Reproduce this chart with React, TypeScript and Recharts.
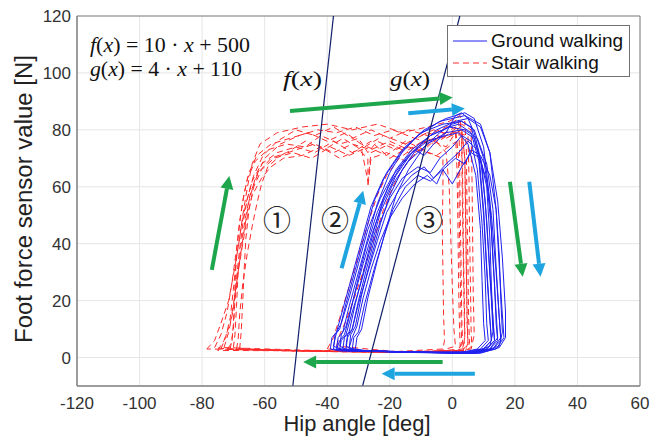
import React from "react";
import { ComposedChart, Line, XAxis, YAxis, CartesianGrid, ReferenceLine, ReferenceArea, Legend } from "recharts";

type P = [number, number];

// ground walking cycles (hip angle, foot force)
const g1: P[] = [[-39,3],[-38.5,7],[-37,9],[-35,17],[-32,29],[-29,41],[-26,53],[-22,63],[-17,71],[-11,78],[-4,83],[4,85],[9,82],[12,72],[14,52],[15,32],[16,15],[16.5,7],[14,3],[8,1.5],[-10,1.8],[-36,2.3],[-39,3]];
const g2: P[] = [[-38,3],[-37.5,8],[-36,10],[-34,19],[-31,31],[-28,43],[-25,55],[-21,65],[-16,73],[-10,79],[-3,82],[3,83],[7,80],[10,70],[12.5,50],[14,30],[15,14],[15.5,6],[13,3],[7,1.6],[-12,1.9],[-35,2.4],[-38,3]];
const g3: P[] = [[-37,3.5],[-36.5,7],[-35,9],[-33,18],[-30,30],[-27,42],[-24,54],[-20,65],[-15,74],[-9,80],[-2,84],[4,86],[7,84],[10,74],[12,55],[13,34],[14,16],[14.5,7],[12,3],[6,1.5],[-14,2],[-34,2.5],[-37,3.5]];
const g4: P[] = [[-36,3],[-35.5,6],[-34,8],[-32,16],[-29,27],[-26,39],[-23,51],[-19,61],[-14,69],[-8,75],[-2,79],[3,80],[7,77],[9.5,67],[11,48],[12,30],[13,14],[13.5,6],[11,3],[5,1.7],[-15,2],[-33,2.6],[-36,3]];
const g5: P[] = [[-35,3],[-34.5,7],[-33,9],[-31,19],[-28,32],[-25,45],[-22,56],[-18,66],[-13,73],[-7,78],[-1,81],[2,82],[6,79],[8.5,69],[10,50],[11,30],[12,13],[12.5,6],[10,3],[4,1.6],[-16,1.9],[-32,2.5],[-35,3]];
const g6: P[] = [[-34,3],[-33.5,7],[-32,10],[-30,20],[-27,33],[-24,45],[-20,56],[-16,63],[-11,67],[-7,65],[-4,70],[0,74],[3,78],[6,76],[8,66],[9.5,47],[10.5,28],[11,12],[11.5,6],[9,3],[3,1.7],[-18,2],[-31,2.6],[-34,3]];
const g7: P[] = [[-33,3],[-32.5,8],[-31,11],[-29,22],[-26,35],[-23,47],[-20,57],[-16,66],[-11,74],[-5,80],[1,83],[5,84],[9,81],[12,72],[14.5,55],[16,35],[17,16],[17,7],[15,3.5],[9,1.5],[-8,1.8],[-30,2.4],[-33,3]];
const g8: P[] = [[-32,3],[-31.5,7],[-30,9],[-28,19],[-25,31],[-22,42],[-19,52],[-15,60],[-11,64],[-7,62],[-3,66],[0,61],[3,67],[6,72],[9,70],[11,60],[12,42],[12.5,25],[13,12],[13.5,6],[11,3],[5,1.6],[-16,1.9],[-29,2.5],[-32,3]];
const g9: P[] = [[-38,4],[-37,9],[-35.5,12],[-33,21],[-30,33],[-27,45],[-23,56],[-19,64],[-14,71],[-8,76],[-2,78],[2,79],[5,75],[7.5,64],[9,45],[9.5,27],[10,12],[10.5,6],[8,3],[2,1.6],[-17,2],[-35,2.5],[-38,4]];
const g10: P[] = [[-36,4],[-35.5,8],[-34,11],[-31.5,21],[-28.5,33],[-25.5,44],[-22,55],[-18,64],[-13,72],[-7,78],[-1,81],[4,80],[8,77],[11,68],[13,52],[14,32],[15,14],[15.5,7],[13,3],[7,1.5],[-12,1.8],[-33,2.4],[-36,4]];
const g11: P[] = [[-34,4],[-33.5,8],[-32,10],[-30,19],[-27,30],[-24,41],[-21,51],[-17,59],[-13,64],[-9,67],[-6,63],[-2,68],[2,72],[5,76],[8,73],[11,62],[12.5,45],[13.5,26],[14,12],[14.5,6],[12,3],[6,1.6],[-14,1.9],[-31,2.5],[-34,4]];
const g12: P[] = [[-31,3],[-30.5,7],[-29,10],[-27,21],[-24,34],[-21,46],[-18,57],[-14,66],[-9,74],[-4,79],[0,82],[3,83],[6,81],[8.5,71],[10,52],[11,32],[12,14],[12.5,6],[10,3],[4,1.5],[-15,1.8],[-28,2.4],[-31,3]];
const g13: P[] = [[-37,3],[-36,6],[-34.5,8],[-33,14],[-30.5,26],[-27.5,39],[-24,51],[-20.5,60],[-16,68],[-12,73],[-9,71],[-6,75],[-2,79],[1,85],[3,86],[5,84],[7,79],[9,70],[10.5,55],[11.5,38],[12.5,20],[13,9],[12,4],[7,2],[-10,1.8],[-34,2.4],[-37,3]];
const g14: P[] = [[-33,3.5],[-32,7],[-30.5,11],[-28.5,21],[-26,31],[-23,41],[-20,49],[-16,56],[-12,61],[-8,64],[-5,61],[-3,66],[1,70],[4,68],[6,73],[9,71],[12,64],[14,52],[15,36],[15.5,20],[16,9],[15,4],[9,2],[-12,1.9],[-30,2.6],[-33,3.5]];

// stair walking cycles
const s1: P[] = [[-78.5,3],[-76,6],[-74,12],[-71.5,20],[-69.5,32],[-68,42],[-67,50],[-65.5,60],[-64,68],[-61.5,75],[-56,79],[-48,81],[-40,82],[-32,80],[-24,82],[-16,79],[-8,81],[-1,83],[2.5,85],[3,75],[3.2,55],[3.5,35],[3.8,15],[4,6],[3,2.5],[-10,2],[-40,2.3],[-65,2.8],[-78.5,3]];
const s2: P[] = [[-76,3.5],[-74,8],[-72,16],[-70.5,26],[-69,38],[-68,48],[-66.5,58],[-65,65],[-62.5,71],[-58,75],[-52,77],[-46,79],[-40,76],[-34,79],[-28,74],[-22,78],[-15,75],[-8,79],[-2,77],[3,80],[4,70],[4.2,50],[4.5,30],[4.7,12],[5,5],[4,2.5],[-12,1.8],[-45,2.2],[-70,2.8],[-76,3.5]];
const s3: P[] = [[-72,3],[-70.5,5],[-70,12],[-69.5,25],[-69,37],[-68,47],[-67,55],[-65.5,63],[-63,69],[-59,73],[-53,75],[-47,74],[-42,78],[-36,75],[-30,77],[-27,72],[-24,76],[-18,73],[-12,77],[-6,75],[0,79],[5,78],[5.3,65],[5.5,45],[5.8,25],[6,10],[6.2,4],[4,2],[-15,1.8],[-50,2.4],[-72,3]];
const s4: P[] = [[-70,3.5],[-69.5,8],[-69,18],[-68.5,30],[-67.5,40],[-66,50],[-64.5,58],[-62,65],[-58,70],[-53,72],[-47,76],[-41,73],[-35,77],[-29,73],[-27,62],[-26,72],[-20,75],[-14,72],[-8,76],[-2,78],[3,82],[6,80],[6.3,62],[6.5,42],[6.7,22],[7,8],[6,3],[0,1.9],[-30,2],[-60,2.6],[-70,3.5]];
const s5: P[] = [[-74,3],[-72.5,7],[-71,14],[-70,24],[-69,35],[-67.5,46],[-66,54],[-64,62],[-61,68],[-56,72],[-50,74],[-44,72],[-38,76],[-32,72],[-26,76],[-20,70],[-14,74],[-8,72],[-3,70],[-3,60],[-3.2,45],[-3,30],[-2.8,15],[-2.5,6],[-3,3],[-20,2],[-50,2.5],[-74,3]];
const s6: P[] = [[-68,3],[-67.5,9],[-67,20],[-66.5,32],[-66,42],[-65,52],[-63.5,60],[-61,66],[-57,70],[-51,72],[-45,70],[-39,74],[-33,71],[-27,74],[-21,71],[-15,76],[-9,73],[-4,78],[1,81],[2,70],[2.2,50],[2.5,30],[2.8,12],[3,5],[2,2.5],[-15,2],[-45,2.3],[-68,3]];
const s7: P[] = [[-75,2.5],[-73,6],[-71,12],[-69.5,22],[-68,34],[-66.5,45],[-65,55],[-63,63],[-60,70],[-55,75],[-49,78],[-43,80],[-37,79],[-31,81],[-25,78],[-19,80],[-12,77],[-6,80],[0,78],[4,83],[4.5,72],[4.7,52],[5,32],[5.2,14],[5.5,5],[4,2],[-20,1.8],[-55,2.4],[-75,2.5]];
const s8: P[] = [[-71,3],[-70,10],[-69.5,20],[-68.5,30],[-67,40],[-65.5,50],[-64,57],[-61,63],[-58,67],[-54,70],[-48,71],[-42,74],[-36,70],[-30,73],[-27,70],[-27,60],[-26,70],[-21,72],[-15,69],[-10,73],[-5,71],[0,75],[3,77],[3.3,62],[3.5,42],[3.8,22],[4,8],[3.5,3],[-10,1.9],[-40,2.2],[-71,3]];
const s9: P[] = [[-73,3.5],[-71.5,9],[-70,17],[-69,28],[-68,38],[-67,47],[-65.5,56],[-63.5,64],[-60.5,71],[-56,76],[-50,80],[-44,78],[-38,81],[-32,77],[-26,80],[-20,77],[-14,80],[-8,78],[-2,81],[2,84],[2.3,72],[2.5,52],[2.8,32],[3,14],[3.3,5],[2,2.5],[-18,2],[-48,2.6],[-73,3.5]];
const s10: P[] = [[-69,3],[-68.5,6],[-68,15],[-67,26],[-65.5,37],[-64,46],[-62.5,54],[-61,61],[-59,67],[-55,71],[-50,73],[-44,75],[-38,72],[-32,75],[-26,73],[-20,76],[-14,73],[-8,77],[-2,74],[1,79],[1.5,66],[1.8,46],[2,26],[2.3,10],[2.5,4],[1.5,2],[-25,1.8],[-55,2.4],[-69,3]];
const s11: P[] = [[-37,4],[-36,8],[-34,13],[-31,22],[-28,32],[-25,42],[-22,52],[-19,60],[-16,66],[-12,72],[-6,76],[0,79],[3,80],[4,70],[4.3,50],[4.5,30],[4.8,12],[5,5],[3,2],[-15,1.8],[-37,4]];
const s12: P[] = [[-40,3],[-38,7],[-36,14],[-33,25],[-30,36],[-27,47],[-24,57],[-21,64],[-17,70],[-12,74],[-6,77],[-2,72],[-1,60],[-0.5,42],[0,25],[0.5,10],[1,4],[-5,2],[-25,2],[-40,3]];

const groundCycles = [g1, g2, g3, g4, g5, g6, g7, g8, g9, g10, g11, g12, g13, g14];
const stairCycles = [s1, s2, s3, s4, s5, s6, s7, s8, s9, s10, s11, s12];

// boundary lines f(x), g(x)
const fLine: P[] = [[-51, -10], [-38, 120]];
const gLine: P[] = [[-28.7, -10], [2.4, 120]];

// direction arrows [from, to]
const greenArrows: [P, P][] = [
  [[-51.9, 86.6], [0.1, 91.4]],
  [[-76.9, 30.8], [-71.3, 63.8]],
  [[18.4, 61.8], [22.5, 28.4]],
  [[-3.1, -1.6], [-47.7, -1.6]],
];
const cyanArrows: [P, P][] = [
  [[-14.1, 85.8], [4.0, 87.5]],
  [[-35.4, 31.4], [-28.5, 58.6]],
  [[24.6, 61.8], [28.2, 28.4]],
  [[7.2, -5.7], [-22.6, -5.7]],
];

const xTicks = [-120, -100, -80, -60, -40, -20, 0, 20, 40, 60];
const yTicks = [0, 20, 40, 60, 80, 100, 120];

const toRows = (pts: P[]) => pts.map(([x, y]) => ({ x, y }));

const FONT = '"Liberation Sans", Arial, Helvetica, sans-serif';
const SERIF = '"Liberation Serif", "DejaVu Serif", serif';
const BOX = "#808080";

const arrowShape = (color: string) => (props: any) => {
  const { x1, y1, x2, y2 } = props;
  const a = Math.atan2(y2 - y1, x2 - x1);
  const len = 13, w = 6.5;
  const bx = x2 - len * Math.cos(a), by = y2 - len * Math.sin(a);
  const px = -Math.sin(a) * w, py = Math.cos(a) * w;
  return (
    <g>
      <line x1={x1} y1={y1} x2={bx} y2={by} stroke={color} strokeWidth={4} />
      <polygon points={`${x2},${y2} ${bx + px},${by + py} ${bx - px},${by - py}`} fill={color} />
    </g>
  );
};

const noLabel = () => <g />;

const LegendBox = () => (
  <div style={{ width: 181, height: 50, border: "1px solid #707070", background: "#fff", fontFamily: FONT, fontSize: 19, color: "#111", lineHeight: "22px" }}>
    <div style={{ display: "flex", alignItems: "center", height: 22, marginTop: 4 }}>
      <svg width={43} height={10}><line x1={5} y1={5} x2={39} y2={5} stroke="#2020f0" strokeWidth={1} /></svg>
      <span>Ground walking</span>
    </div>
    <div style={{ display: "flex", alignItems: "center", height: 22 }}>
      <svg width={43} height={10}><line x1={5} y1={5} x2={39} y2={5} stroke="#ff2a2a" strokeWidth={1} strokeDasharray="6 4" /></svg>
      <span>Stair walking</span>
    </div>
  </div>
);

export default function App() {
  return (
    <div style={{ position: "absolute", left: 0, top: 0, width: 661, height: 440, background: "#fff" }}>
      <ComposedChart width={661} height={440} margin={{ top: 16, right: 21, bottom: 0, left: 0 }} style={{ fontFamily: FONT }}>
        <CartesianGrid stroke="#e6e6e6" />
        <XAxis dataKey="x" type="number" domain={[-120, 60]} ticks={xTicks} allowDataOverflow height={54}
          tickLine={false} tickSize={6} tickMargin={5} axisLine={{ stroke: BOX }}
          tick={{ fontSize: 17, fill: "#333", fontFamily: FONT }} />
        <YAxis type="number" domain={[-10, 120]} ticks={yTicks} allowDataOverflow width={77}
          tickLine={false} tickSize={4} tickMargin={2} axisLine={{ stroke: BOX }}
          tick={{ fontSize: 17, fill: "#333", fontFamily: FONT }} />
        {/* inward tick marks on all four sides of the box */}
        <XAxis xAxisId="xb" orientation="bottom" mirror type="number" domain={[-120, 60]} ticks={xTicks} height={0}
          tick={noLabel} tickSize={5} tickLine={{ stroke: BOX }} axisLine={false} />
        <XAxis xAxisId="xt" orientation="top" mirror type="number" domain={[-120, 60]} ticks={xTicks} height={0}
          tick={noLabel} tickSize={5} tickLine={{ stroke: BOX }} axisLine={{ stroke: BOX }} />
        <YAxis yAxisId="yl" orientation="left" mirror type="number" domain={[-10, 120]} ticks={yTicks} width={0}
          tick={noLabel} tickSize={5} tickLine={{ stroke: BOX }} axisLine={false} />
        <YAxis yAxisId="yr" orientation="right" mirror type="number" domain={[-10, 120]} ticks={yTicks} width={0}
          tick={noLabel} tickSize={5} tickLine={{ stroke: BOX }} axisLine={{ stroke: BOX }} />
        <ReferenceArea x1={-120} x2={60} y1={-10} y2={120} fill="none" stroke={BOX} ifOverflow="visible" />
        {stairCycles.map((c, i) => (
          <Line key={"s" + i} data={toRows(c)} dataKey="y" type="linear" stroke="#ff2a2a" strokeWidth={1}
            strokeDasharray="6 4" dot={false} activeDot={false} isAnimationActive={false} legendType="none" />
        ))}
        {groundCycles.map((c, i) => (
          <Line key={"g" + i} data={toRows(c)} dataKey="y" type="linear" stroke="#2020f0" strokeWidth={1}
            dot={false} activeDot={false} isAnimationActive={false} legendType="none" />
        ))}
        <Line data={toRows(fLine)} dataKey="y" type="linear" stroke="#0f1f6a" strokeWidth={1.2} dot={false} activeDot={false} isAnimationActive={false} legendType="none" />
        <Line data={toRows(gLine)} dataKey="y" type="linear" stroke="#0f1f6a" strokeWidth={1.2} dot={false} activeDot={false} isAnimationActive={false} legendType="none" />
        {greenArrows.map(([a, b], i) => (
          <ReferenceLine key={"ga" + i} segment={[{ x: a[0], y: a[1] }, { x: b[0], y: b[1] }]} ifOverflow="visible" shape={arrowShape("#1ea64c")} />
        ))}
        {cyanArrows.map(([a, b], i) => (
          <ReferenceLine key={"ca" + i} segment={[{ x: a[0], y: a[1] }, { x: b[0], y: b[1] }]} ifOverflow="visible" shape={arrowShape("#1ea5e0")} />
        ))}
        <Legend content={() => <LegendBox />} layout="vertical" align="center" verticalAlign="middle"
          wrapperStyle={{ top: 25, left: 447, width: 185, height: 54 }} />
      </ComposedChart>
      <svg width={661} height={440} style={{ position: "absolute", left: 0, top: 0, pointerEvents: "none" }}>
        <text x={24} y={199} transform="rotate(-90 24 199)" textAnchor="middle" dominantBaseline="central"
          fontFamily={FONT} fontSize={23} fill="#222" textLength={288} lengthAdjust="spacingAndGlyphs">Foot force sensor value [N]</text>
        <text x={357} y={431} textAnchor="middle" fontFamily={FONT} fontSize={21.5} fill="#222" textLength={147} lengthAdjust="spacingAndGlyphs">Hip angle [deg]</text>
        <text x={90} y={52} fontFamily={SERIF} fontSize={20} fill="#111" textLength={160} lengthAdjust="spacingAndGlyphs">
          <tspan fontStyle="italic">f</tspan>(<tspan fontStyle="italic">x</tspan>) = 10  · <tspan fontStyle="italic">x</tspan> + 500
        </text>
        <text x={90} y={75.5} fontFamily={SERIF} fontSize={20} fill="#111" textLength={152} lengthAdjust="spacingAndGlyphs">
          <tspan fontStyle="italic">g</tspan>(<tspan fontStyle="italic">x</tspan>) = 4 · <tspan fontStyle="italic">x</tspan> + 110
        </text>
        <text x={283} y={86} fontFamily={SERIF} fontSize={21} fill="#111" textLength={39} lengthAdjust="spacingAndGlyphs">
          <tspan fontStyle="italic">f</tspan>(<tspan fontStyle="italic">x</tspan>)
        </text>
        <text x={390} y={86} fontFamily={SERIF} fontSize={21} fill="#111" textLength={40} lengthAdjust="spacingAndGlyphs">
          <tspan fontStyle="italic">g</tspan>(<tspan fontStyle="italic">x</tspan>)
        </text>
        {[["①", 277], ["②", 335], ["③", 429]].map(([t, x]) => (
          <text key={t as string} x={x as number} y={219} textAnchor="middle" dominantBaseline="central"
            fontFamily='"Noto Sans CJK JP", "DejaVu Sans", sans-serif' fontSize={28} fill="#222">{t}</text>
        ))}
      </svg>
    </div>
  );
}
